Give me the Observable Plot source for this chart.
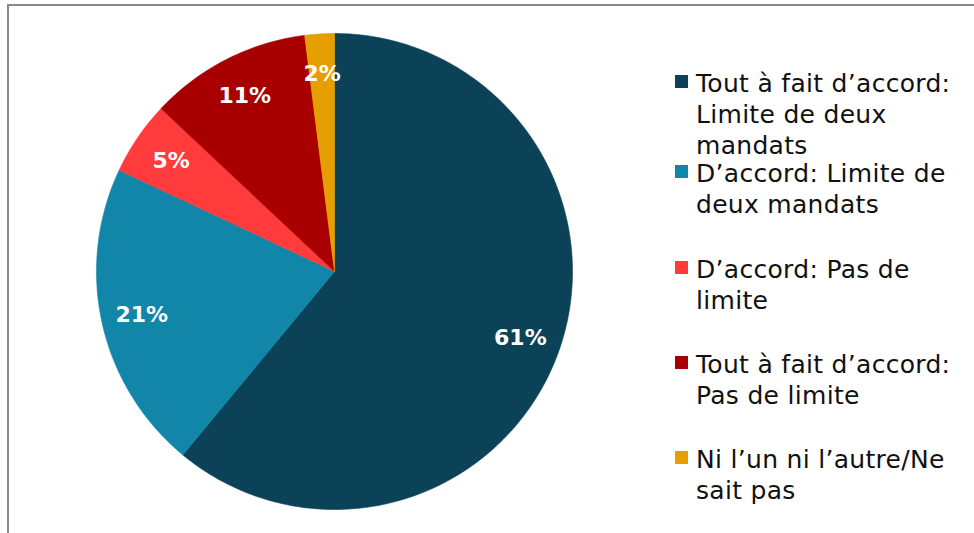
<!DOCTYPE html>
<html>
<head>
<meta charset="utf-8">
<script src="https://cdn.jsdelivr.net/npm/d3@7"></script>
<script src="https://cdn.jsdelivr.net/npm/@observablehq/plot@0.6"></script>
<style>
  html, body { margin: 0; padding: 0; background: #fff; }
  #wrap { position: relative; width: 974px; height: 533px; overflow: hidden; font-family: "DejaVu Sans", sans-serif; }
  #frame { position: absolute; left: 7px; top: 4px; width: 980px; height: 540px; border-left: 2px solid #888; border-top: 2px solid #888; }
  #chart { position: absolute; left: 0; top: 0; }
  #legend { position: absolute; left: 0; top: 0; }
  .item { position: absolute; left: 675px; font-size: 25px; line-height: 31px; color: #111; white-space: pre-line; }
  .sw { position: absolute; left: 0; top: 7px; width: 13px; height: 13px; }
  .lbl { position: absolute; left: 21px; top: 0; width: 300px; letter-spacing: 0.3px; }
</style>
</head>
<body>
<div id="wrap">
  <div id="frame"></div>
  <div id="chart"></div>
  <div id="legend"></div>
</div>
<script>
const categories = [
  "Tout à fait d’accord: Limite de deux mandats",
  "D’accord: Limite de deux mandats",
  "D’accord: Pas de limite",
  "Tout à fait d’accord: Pas de limite",
  "Ni l’un ni l’autre/Ne sait pas"
];
const legendLines = [
  "Tout à fait d’accord:\nLimite de deux\nmandats",
  "D’accord: Limite de\ndeux mandats",
  "D’accord: Pas de\nlimite",
  "Tout à fait d’accord:\nPas de limite",
  "Ni l’un ni l’autre/Ne\nsait pas"
];
const values = [61, 21, 5, 11, 2];
const colors = ["#0b4258", "#1186a9", "#ff3b3b", "#a80000", "#e69f00"];

const data = categories.map((c, i) => ({category: c, value: values[i]}));
const arcs = d3.pie().sort(null).value(d => d.value)(data);

// slice outlines (unit circle, clockwise from 12 o'clock)
const slicePts = [];
arcs.forEach(a => {
  const n = Math.max(4, Math.ceil((a.endAngle - a.startAngle) / (Math.PI * 2) * 360));
  slicePts.push({category: a.data.category, x: 0, y: 0});
  for (let k = 0; k <= n; k++) {
    const t = a.startAngle + (a.endAngle - a.startAngle) * k / n;
    slicePts.push({category: a.data.category, x: Math.sin(t), y: Math.cos(t)});
  }
  slicePts.push({category: a.data.category, x: 0, y: 0});
});

const labelR = 0.83;
const labels = arcs.map(a => {
  const m = (a.startAngle + a.endAngle) / 2;
  return {text: a.data.value + "%", x: labelR * Math.sin(m), y: labelR * Math.cos(m)};
});

const plot = Plot.plot({
  width: 974,
  height: 533,
  style: {background: "transparent", fontFamily: "DejaVu Sans, sans-serif"},
  x: {domain: [-1, 1], range: [96, 572], axis: null},
  y: {domain: [-1, 1], range: [509, 33], axis: null},
  color: {domain: categories, range: colors},
  marks: [
    Plot.line(slicePts, {x: "x", y: "y", z: "category", fill: "category", stroke: "category", strokeWidth: 0.6, curve: "linear"}),
    Plot.text(labels, {x: "x", y: "y", text: "text", fill: "white", fontSize: 22, fontWeight: "bold"})
  ]
});
document.getElementById("chart").appendChild(plot);

const leg = document.getElementById("legend");
const tops = [68, 158, 254, 349, 444];
legendLines.forEach((t, i) => {
  const it = document.createElement("div");
  it.className = "item";
  it.style.top = tops[i] + "px";
  const sw = document.createElement("div");
  sw.className = "sw";
  sw.style.background = colors[i];
  const lb = document.createElement("div");
  lb.className = "lbl";
  lb.textContent = t;
  it.appendChild(sw);
  it.appendChild(lb);
  leg.appendChild(it);
});
</script>
</body>
</html>
